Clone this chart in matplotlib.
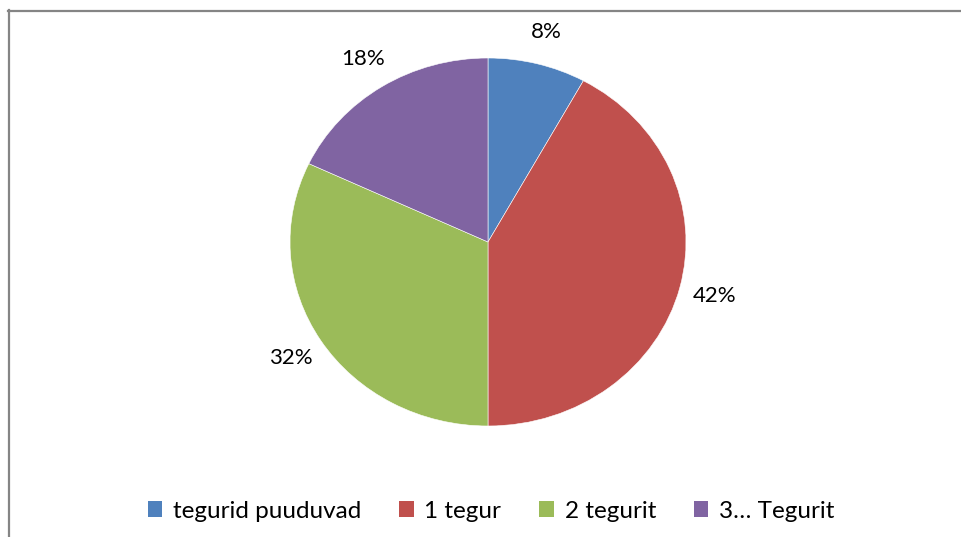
import matplotlib.pyplot as plt
from matplotlib.lines import Line2D
from matplotlib.patches import Patch

labels = ['tegurid puuduvad', '1 tegur', '2 tegurit', '3… Tegurit']
values = [8, 42, 32, 18]
colors = ['#4F81BD', '#C0504D', '#9BBB59', '#8064A2']

plt.rcParams['font.family'] = ['Lato', 'DejaVu Sans']

W, H = 962, 537
fig = plt.figure(figsize=(W / 100, H / 100), dpi=100)

# pie is a bit wider than tall in the original, so stretch the axes
cx, cy, rx, ry = 488, 242, 198, 184
ax = fig.add_axes([(cx - 1.25 * rx) / W, (H - cy - 1.25 * ry) / H,
                   2.5 * rx / W, 2.5 * ry / H])
ax.pie(values, colors=colors, startangle=90, counterclock=False,
       autopct='%d%%', pctdistance=1.18,
       wedgeprops=dict(edgecolor='white', linewidth=0.4),
       textprops=dict(fontsize=16, color='black'))
ax.set_aspect('auto')
ax.set_xlim(-1.25, 1.25)
ax.set_ylim(-1.25, 1.25)
ax.axis('off')

handles = [Patch(facecolor=c, edgecolor='none') for c in colors]
fig.legend(handles, labels, loc='center', bbox_to_anchor=(491 / W, 1 - 511 / H),
           ncol=4, frameon=False, fontsize=17.5, handlelength=0.6, handleheight=0.6,
           handletextpad=0.45, columnspacing=1.55)

# chart frame (cut off at right and bottom)
fig.add_artist(Line2D([8 / W, 1], [1 - 10.5 / H] * 2, color='#858585', lw=1.6,
                      transform=fig.transFigure))
fig.add_artist(Line2D([8.5 / W] * 2, [0, 1 - 10 / H], color='#858585', lw=1.6,
                      transform=fig.transFigure))

fig.savefig('out.png', dpi=100)
